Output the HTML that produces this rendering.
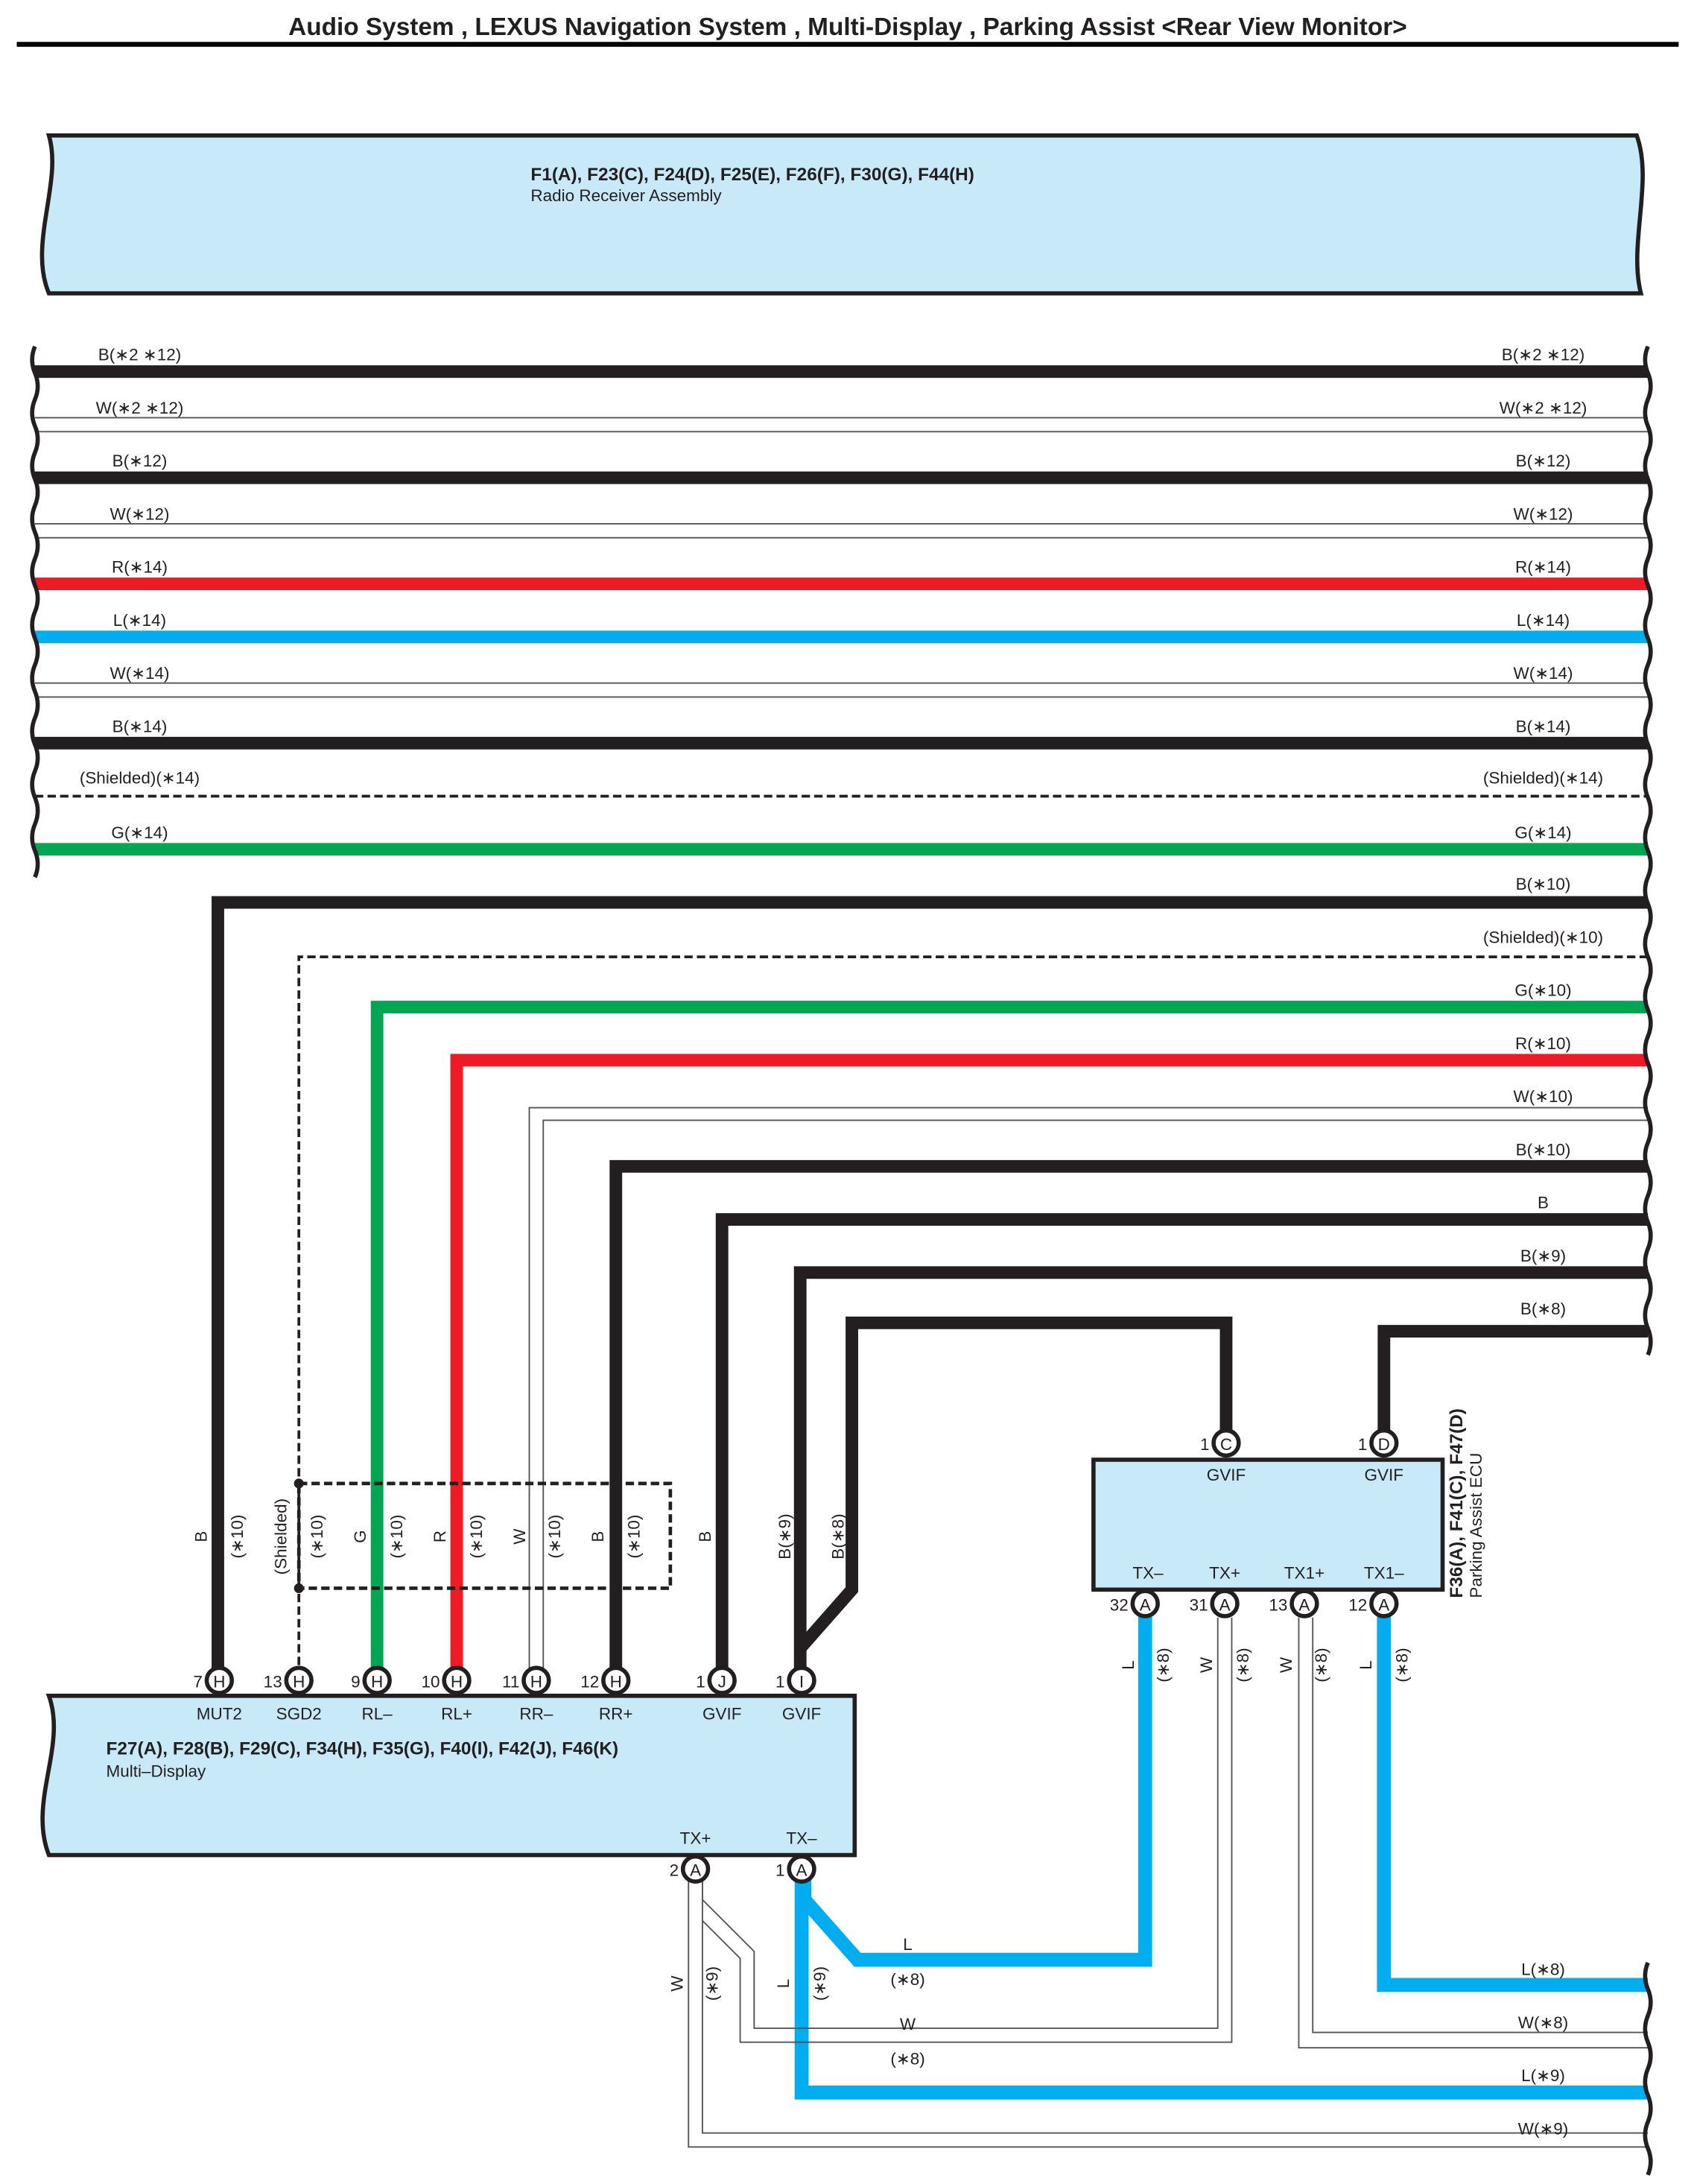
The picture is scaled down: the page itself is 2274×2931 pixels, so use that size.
<!DOCTYPE html>
<html><head><meta charset="utf-8"><style>
html,body{margin:0;padding:0;background:#fff}
svg{display:block}
text{font-family:"Liberation Sans",sans-serif;fill:#231f20}
</style></head><body>
<svg xmlns="http://www.w3.org/2000/svg" width="2274" height="2931" viewBox="0 0 1213 1563.5">
<defs>
<g id="conn"><circle r="9" fill="#fff" stroke="#231f20" stroke-width="3"/></g>
</defs>
<rect width="1213" height="1563.5" fill="#fff"/>
<!-- title -->
<text x="607" y="25" font-size="17.8" font-weight="bold" text-anchor="middle">Audio System , LEXUS Navigation System , Multi-Display , Parking Assist &lt;Rear View Monitor&gt;</text>
<rect x="12" y="30" width="1190" height="3.5" fill="#000"/>
<!-- radio box -->
<path d="M35,97 H1172 C1184,130 1166,175 1175,210 H35 C20,175 45,130 35,97 Z" fill="#c7e9f8" stroke="#231f20" stroke-width="3"/>
<text x="380" y="129" font-size="13" font-weight="bold">F1(A), F23(C), F24(D), F25(E), F26(F), F30(G), F44(H)</text>
<text x="380" y="144" font-size="12">Radio Receiver Assembly</text>

<g fill="none" stroke-linecap="butt">
<!-- top wires -->
<g stroke-width="9">
<line x1="25" y1="266" x2="1180" y2="266" stroke="#231f20"/>
<line x1="25" y1="342" x2="1180" y2="342" stroke="#231f20"/>
<line x1="25" y1="418" x2="1180" y2="418" stroke="#ed1c24"/>
<line x1="25" y1="456" x2="1180" y2="456" stroke="#00aeef"/>
<line x1="25" y1="532" x2="1180" y2="532" stroke="#231f20"/>
<line x1="25" y1="608" x2="1180" y2="608" stroke="#00a651"/>
</g>
<g stroke="#555" stroke-width="1">
<line x1="25" y1="299" x2="1180" y2="299"/><line x1="25" y1="309" x2="1180" y2="309"/>
<line x1="25" y1="375" x2="1180" y2="375"/><line x1="25" y1="385" x2="1180" y2="385"/>
<line x1="25" y1="489" x2="1180" y2="489"/><line x1="25" y1="499" x2="1180" y2="499"/>
</g>
<line x1="25" y1="570" x2="1180" y2="570" stroke="#231f20" stroke-width="2" stroke-dasharray="6,3"/>

<!-- lower wires to multi-display -->
<g stroke-width="9" stroke="#231f20" stroke-linejoin="miter">
<path d="M1180,646 H156 V1195"/>
<path d="M1180,835 H441 V1195"/>
<path d="M1180,873 H517 V1195"/>
<path d="M1180,911 H573 V1195"/>
<path d="M878,1025 V947 H610 V1138 L573,1180"/>
<path d="M1180,953 H991 V1025"/>
</g>
<path d="M1180,721 H270 V1195" stroke="#00a651" stroke-width="9"/>
<path d="M1180,759 H327 V1195" stroke="#ed1c24" stroke-width="9"/>
<path d="M1180,685 H214 V1195" stroke="#231f20" stroke-width="2" stroke-dasharray="6,3"/>
<g stroke="#555" stroke-width="1">
<path d="M1180,793 H379 V1195"/>
<path d="M1180,802 H389 V1195"/>
</g>
<!-- shield box -->
<rect x="214" y="1062" width="266" height="75" stroke="#231f20" stroke-width="2.5" stroke-dasharray="6,3"/>

<!-- blue wires -->
<g stroke="#00aeef" stroke-width="10" stroke-linejoin="miter">
<path d="M820,1156 V1403 H614 L576,1360 V1346"/>
<path d="M574,1346 V1498 H1180"/>
<path d="M991,1156 V1421 H1180"/>
</g>
<!-- white wires bottom -->
<g stroke="#555" stroke-width="1">
<path d="M872,1158 V1452 H540 V1397 L503,1360 V1347"/>
<path d="M882,1158 V1462 H530 V1402 L503,1375"/>
<path d="M940,1158 V1455 H1180"/>
<path d="M930,1158 V1466 H1180"/>
<path d="M503,1347 V1527 H1180"/>
<path d="M493,1347 V1537 H1180"/>
</g>

<!-- wavy brackets -->
<g stroke="#231f20" stroke-width="3">
<path d="M25,248 q-4,9.5 0,19 q4,9.5 0,19 q-4,9.5 0,19 q4,9.5 0,19 q-4,9.5 0,19 q4,9.5 0,19 q-4,9.5 0,19 q4,9.5 0,19 q-4,9.5 0,19 q4,9.5 0,19 q-4,9.5 0,19 q4,9.5 0,19 q-4,9.5 0,19 q4,9.5 0,19 q-4,9.5 0,19 q4,9.5 0,19 q-4,9.5 0,19 q4,9.5 0,19 q-4,9.5 0,19 q4,9.5 0,19"/>
<path d="M1180,248 q-4,9.5 0,19 q4,9.5 0,19 q-4,9.5 0,19 q4,9.5 0,19 q-4,9.5 0,19 q4,9.5 0,19 q-4,9.5 0,19 q4,9.5 0,19 q-4,9.5 0,19 q4,9.5 0,19 q-4,9.5 0,19 q4,9.5 0,19 q-4,9.5 0,19 q4,9.5 0,19 q-4,9.5 0,19 q4,9.5 0,19 q-4,9.5 0,19 q4,9.5 0,19 q-4,9.5 0,19 q4,9.5 0,19 q-4,9.5 0,19 q4,9.5 0,19 q-4,9.5 0,19 q4,9.5 0,19 q-4,9.5 0,19 q4,9.5 0,19 q-4,9.5 0,19 q4,9.5 0,19 q-4,9.5 0,19 q4,9.5 0,19 q-4,9.5 0,19 q4,9.5 0,19 q-4,9.5 0,19 q4,9.5 0,19 q-4,9.5 0,19 q4,9.5 0,19 q-4,9.5 0,19 q4,9.5 0,19"/>
<path d="M1180,1405 q-4,9.5 0,19 q4,9.5 0,19 q-4,9.5 0,19 q4,9.5 0,19 q-4,9.5 0,19 q4,9.5 0,19 q-4,9.5 0,19 q4,9.5 0,19"/>
</g>
</g>

<!-- dots -->
<circle cx="214" cy="1062" r="3.5" fill="#231f20"/>
<circle cx="214" cy="1137" r="3.5" fill="#231f20"/>

<!-- left labels top -->
<g font-size="12" text-anchor="middle">
<text x="100" y="258">B(∗2 ∗12)</text><text x="100" y="296">W(∗2 ∗12)</text>
<text x="100" y="334">B(∗12)</text><text x="100" y="372">W(∗12)</text>
<text x="100" y="410">R(∗14)</text><text x="100" y="448">L(∗14)</text>
<text x="100" y="486">W(∗14)</text><text x="100" y="524">B(∗14)</text>
<text x="100" y="561">(Shielded)(∗14)</text><text x="100" y="600">G(∗14)</text>
<!-- right labels -->
<text x="1105" y="258">B(∗2 ∗12)</text><text x="1105" y="296">W(∗2 ∗12)</text>
<text x="1105" y="334">B(∗12)</text><text x="1105" y="372">W(∗12)</text>
<text x="1105" y="410">R(∗14)</text><text x="1105" y="448">L(∗14)</text>
<text x="1105" y="486">W(∗14)</text><text x="1105" y="524">B(∗14)</text>
<text x="1105" y="561">(Shielded)(∗14)</text><text x="1105" y="600">G(∗14)</text>
<text x="1105" y="637">B(∗10)</text><text x="1105" y="675">(Shielded)(∗10)</text>
<text x="1105" y="713">G(∗10)</text><text x="1105" y="751">R(∗10)</text>
<text x="1105" y="789">W(∗10)</text><text x="1105" y="827">B(∗10)</text>
<text x="1105" y="865">B</text><text x="1105" y="903">B(∗9)</text>
<text x="1105" y="941">B(∗8)</text>
<text x="1105" y="1414">L(∗8)</text><text x="1105" y="1452">W(∗8)</text>
<text x="1105" y="1490">L(∗9)</text><text x="1105" y="1528">W(∗9)</text>
<text x="650" y="1396">L</text><text x="650" y="1421">(∗8)</text>
<text x="650" y="1453">W</text><text x="650" y="1478">(∗8)</text>
</g>

<!-- vertical labels -->
<g font-size="12" text-anchor="middle">
<text transform="translate(148,1100) rotate(-90)">B</text>
<text transform="translate(174,1100) rotate(-90)">(∗10)</text>
<text transform="translate(205,1100) rotate(-90)">(Shielded)</text>
<text transform="translate(231,1100) rotate(-90)">(∗10)</text>
<text transform="translate(262,1100) rotate(-90)">G</text>
<text transform="translate(288,1100) rotate(-90)">(∗10)</text>
<text transform="translate(319,1100) rotate(-90)">R</text>
<text transform="translate(345,1100) rotate(-90)">(∗10)</text>
<text transform="translate(376,1100) rotate(-90)">W</text>
<text transform="translate(401,1100) rotate(-90)">(∗10)</text>
<text transform="translate(432,1100) rotate(-90)">B</text>
<text transform="translate(458,1100) rotate(-90)">(∗10)</text>
<text transform="translate(509,1100) rotate(-90)">B</text>
<text transform="translate(566,1100) rotate(-90)">B(∗9)</text>
<text transform="translate(604,1100) rotate(-90)">B(∗8)</text>
<text transform="translate(812,1192) rotate(-90)">L</text>
<text transform="translate(837,1192) rotate(-90)">(∗8)</text>
<text transform="translate(868,1192) rotate(-90)">W</text>
<text transform="translate(894,1192) rotate(-90)">(∗8)</text>
<text transform="translate(925,1192) rotate(-90)">W</text>
<text transform="translate(950,1192) rotate(-90)">(∗8)</text>
<text transform="translate(982,1192) rotate(-90)">L</text>
<text transform="translate(1008,1192) rotate(-90)">(∗8)</text>
<text transform="translate(489,1420) rotate(-90)">W</text>
<text transform="translate(514,1420) rotate(-90)">(∗9)</text>
<text transform="translate(565,1420) rotate(-90)">L</text>
<text transform="translate(591,1420) rotate(-90)">(∗9)</text>
</g>

<!-- multi-display box -->
<path d="M35,1214 H612 V1328 H35 C20,1290 48,1250 35,1214 Z" fill="#c7e9f8" stroke="#231f20" stroke-width="3"/>
<g font-size="12" text-anchor="middle">
<text x="157" y="1231">MUT2</text><text x="214" y="1231">SGD2</text>
<text x="270" y="1231">RL–</text><text x="327" y="1231">RL+</text>
<text x="384" y="1231">RR–</text><text x="441" y="1231">RR+</text>
<text x="517" y="1231">GVIF</text><text x="574" y="1231">GVIF</text>
<text x="498" y="1320">TX+</text><text x="574" y="1320">TX–</text>
</g>
<text x="76" y="1256" font-size="13" font-weight="bold">F27(A), F28(B), F29(C), F34(H), F35(G), F40(I), F42(J), F46(K)</text>
<text x="76" y="1272" font-size="12">Multi–Display</text>

<!-- parking assist box -->
<rect x="783" y="1045" width="250" height="93" fill="#c7e9f8" stroke="#231f20" stroke-width="3"/>
<g font-size="12" text-anchor="middle">
<text x="878" y="1060">GVIF</text><text x="991" y="1060">GVIF</text>
<text x="822" y="1130">TX–</text><text x="877" y="1130">TX+</text>
<text x="934" y="1130">TX1+</text><text x="991" y="1130">TX1–</text>
</g>
<text transform="translate(1047,1144) rotate(-90)" font-size="13" font-weight="bold">F36(A), F41(C), F47(D)</text>
<text transform="translate(1061,1144) rotate(-90)" font-size="12">Parking Assist ECU</text>

<!-- connectors -->
<g font-size="12">
<g text-anchor="middle">
<use href="#conn" x="157" y="1203"/><text x="157" y="1208">H</text>
<use href="#conn" x="214" y="1203"/><text x="214" y="1208">H</text>
<use href="#conn" x="270" y="1203"/><text x="270" y="1208">H</text>
<use href="#conn" x="327" y="1203"/><text x="327" y="1208">H</text>
<use href="#conn" x="384" y="1203"/><text x="384" y="1208">H</text>
<use href="#conn" x="441" y="1203"/><text x="441" y="1208">H</text>
<use href="#conn" x="517" y="1203"/><text x="517" y="1208">J</text>
<use href="#conn" x="574" y="1203"/><text x="574" y="1208">I</text>
<use href="#conn" x="498" y="1338"/><text x="498" y="1343">A</text>
<use href="#conn" x="574" y="1338"/><text x="574" y="1343">A</text>
<use href="#conn" x="878" y="1033"/><text x="878" y="1038">C</text>
<use href="#conn" x="991" y="1033"/><text x="991" y="1038">D</text>
<use href="#conn" x="820" y="1148"/><text x="820" y="1153">A</text>
<use href="#conn" x="877" y="1148"/><text x="877" y="1153">A</text>
<use href="#conn" x="934" y="1148"/><text x="934" y="1153">A</text>
<use href="#conn" x="991" y="1148"/><text x="991" y="1153">A</text>
</g>
<g text-anchor="end">
<text x="145" y="1208">7</text><text x="202" y="1208">13</text>
<text x="258" y="1208">9</text><text x="315" y="1208">10</text>
<text x="372" y="1208">11</text><text x="429" y="1208">12</text>
<text x="505" y="1208">1</text><text x="562" y="1208">1</text>
<text x="486" y="1343">2</text><text x="562" y="1343">1</text>
<text x="866" y="1038">1</text><text x="979" y="1038">1</text>
<text x="808" y="1153">32</text><text x="865" y="1153">31</text>
<text x="922" y="1153">13</text><text x="979" y="1153">12</text>
</g>
</g>
</svg>
</body></html>
